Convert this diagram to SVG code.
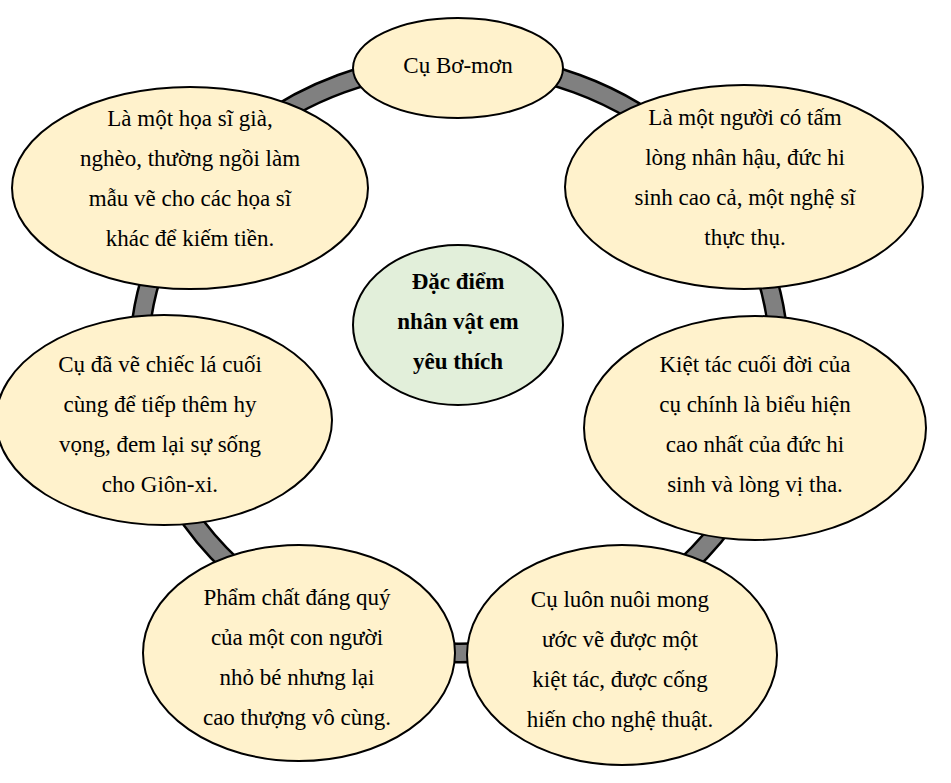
<svg xmlns="http://www.w3.org/2000/svg" width="951" height="783" viewBox="0 0 951 783">
<style>
.n{fill:#FFF2CC;stroke:#000;stroke-width:2}
.c{fill:#E2EFDA;stroke:#000;stroke-width:2}
text{font-family:"Liberation Serif","Times New Roman",serif;font-size:23px;fill:#000;text-anchor:middle}
.b{font-weight:bold}
</style>
<rect width="951" height="783" fill="#fff"/>
<g id="connectors">
<ellipse cx="459" cy="358" rx="320" ry="295" fill="none" stroke="#000" stroke-width="21"/>
<ellipse cx="459" cy="358" rx="320" ry="295" fill="none" stroke="#808080" stroke-width="16"/>
</g>
<g id="top">
<ellipse class="n" cx="458" cy="68" rx="105" ry="50"/>
<text x="458" y="73">Cụ Bơ-mơn</text>
</g>
<g id="topleft">
<ellipse class="n" cx="190" cy="188" rx="178" ry="101"/>
<text x="190" y="126">Là một họa sĩ già,</text>
<text x="190" y="166">nghèo, thường ngồi làm</text>
<text x="190" y="206">mẫu vẽ cho các họa sĩ</text>
<text x="190" y="246">khác để kiếm tiền.</text>
</g>
<g id="topright">
<ellipse class="n" cx="744" cy="187" rx="179" ry="102"/>
<text x="745" y="125">Là một người có tấm</text>
<text x="745" y="165">lòng nhân hậu, đức hi</text>
<text x="745" y="205">sinh cao cả, một nghệ sĩ</text>
<text x="745" y="245">thực thụ.</text>
</g>
<g id="left">
<ellipse class="n" cx="164" cy="420" rx="168" ry="105"/>
<text x="160" y="372">Cụ đã vẽ chiếc lá cuối</text>
<text x="160" y="412">cùng để tiếp thêm hy</text>
<text x="160" y="452">vọng, đem lại sự sống</text>
<text x="160" y="492">cho Giôn-xi.</text>
</g>
<g id="right">
<ellipse class="n" cx="755" cy="428" rx="171" ry="112"/>
<text x="755" y="372">Kiệt tác cuối đời của</text>
<text x="755" y="412">cụ chính là biểu hiện</text>
<text x="755" y="452">cao nhất của đức hi</text>
<text x="755" y="492">sinh và lòng vị tha.</text>
</g>
<g id="bottomleft">
<ellipse class="n" cx="299" cy="653" rx="156" ry="108"/>
<text x="297" y="605">Phẩm chất đáng quý</text>
<text x="297" y="645">của một con người</text>
<text x="297" y="685">nhỏ bé nhưng lại</text>
<text x="297" y="725">cao thượng vô cùng.</text>
</g>
<g id="bottomright">
<ellipse class="n" cx="622" cy="655" rx="155" ry="110"/>
<text x="620" y="607">Cụ luôn nuôi mong</text>
<text x="620" y="647">ước vẽ được một</text>
<text x="620" y="687">kiệt tác, được cống</text>
<text x="620" y="727">hiến cho nghệ thuật.</text>
</g>
<g id="center">
<ellipse class="c" cx="458" cy="325" rx="105" ry="80"/>
<text class="b" x="458" y="289">Đặc điểm</text>
<text class="b" x="458" y="329">nhân vật em</text>
<text class="b" x="458" y="369">yêu thích</text>
</g>
</svg>
